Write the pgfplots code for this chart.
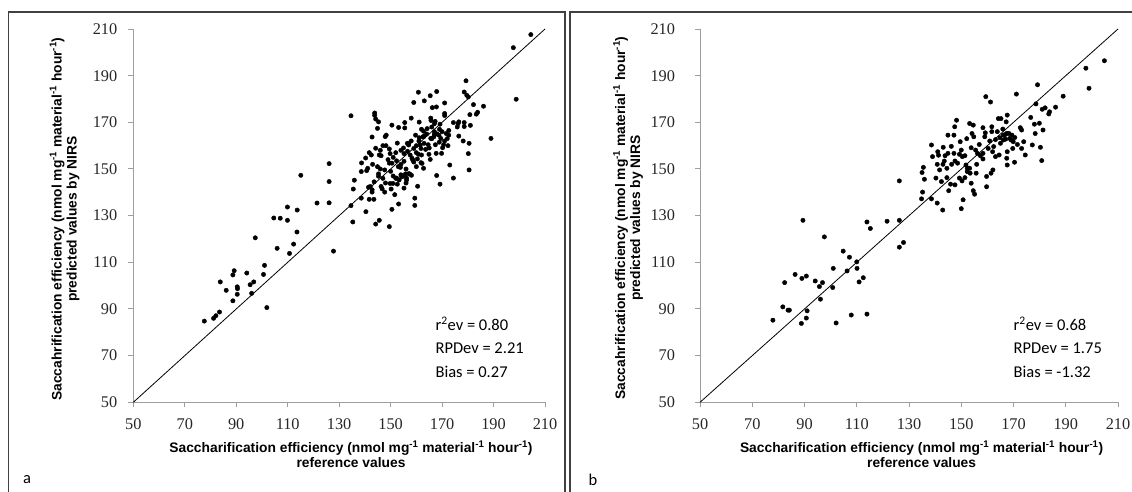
\documentclass[border=0pt]{standalone}
\usepackage{fontspec}
\setmainfont{Liberation Sans}
\newfontfamily\timesf{Liberation Serif}
\newfontfamily\calib{Carlito}
\usepackage{pgfplots}
\usepackage{pgfplotstable}
\pgfplotsset{compat=1.18}

\pgfplotstableread{
x y
77.6 84.8
81.2 86.0
82.1 87.1
83.5 88.7
83.8 101.6
86.1 98.0
88.7 93.5
88.7 104.6
89.2 106.4
90.4 99.5
90.5 98.7
90.4 96.3
94.1 105.4
95.4 100.4
96.0 96.7
96.8 101.6
97.4 120.5
100.6 104.8
101.0 108.7
101.9 90.6
104.6 129.0
107.1 128.9
105.9 116.0
109.9 133.7
109.9 128.0
110.7 113.8
112.3 117.8
113.7 132.4
113.6 123.0
115.1 147.3
121.4 135.4
126.1 152.3
126.1 144.6
126.1 135.5
127.8 114.8
134.6 172.8
134.6 134.3
135.3 127.3
135.5 141.4
135.9 145.2
143.8 174.0
143.8 173.0
144.2 171.4
145.3 170.2
144.9 167.4
142.8 163.7
147.9 163.9
148.3 164.5
150.5 168.8
153.1 167.8
155.5 167.6
155.5 169.9
158.0 171.8
159.0 178.5
160.8 182.9
161.1 170.1
163.1 179.2
165.4 181.4
166.2 176.3
167.8 176.6
167.9 183.2
171.0 178.3
171.0 173.8
171.0 172.9
165.6 171.8
165.7 170.8
167.0 169.4
167.3 170.4
169.2 169.2
172.6 166.5
174.4 169.9
176.2 169.4
176.5 170.2
178.6 169.9
178.6 168.2
175.9 168.0
176.5 164.1
178.2 162.0
178.6 183.0
179.3 187.8
179.6 181.6
180.2 180.9
180.8 173.3
181.0 168.7
182.2 177.6
183.3 173.5
183.8 174.3
186.1 176.9
180.5 161.0
180.2 156.6
180.5 149.6
189.0 163.1
197.7 202.0
198.8 179.9
204.5 207.6
138.7 152.6
138.6 148.9
140.3 154.7
141.1 150.3
140.7 149.3
141.7 157.0
142.5 156.0
142.1 142.5
141.4 142.2
142.8 141.1
142.8 140.1
141.7 137.0
143.5 137.0
138.6 137.5
140.4 131.7
143.6 144.5
144.2 158.9
145.6 156.0
146.3 155.7
144.9 151.0
145.3 147.9
145.3 146.9
146.3 142.5
146.7 141.5
147.7 140.1
144.2 126.4
145.6 128.0
147.0 160.0
148.2 160.0
147.7 149.6
149.5 158.6
149.8 156.6
149.5 152.5
150.5 152.5
149.8 143.8
150.9 143.8
150.2 141.4
149.5 125.3
150.5 132.7
151.6 139.0
152.3 153.5
152.6 161.1
153.3 145.3
152.3 146.1
152.6 143.5
154.0 147.5
153.8 150.7
154.3 146.6
153.1 135.0
155.2 156.6
155.2 153.3
155.8 147.9
156.2 146.1
156.2 145.3
155.2 141.8
156.5 161.0
157.0 160.3
157.4 147.9
158.1 147.3
156.6 157.6
157.6 156.0
158.3 154.6
158.6 153.9
159.0 158.8
159.7 164.5
159.4 137.5
159.4 134.4
160.5 142.6
160.8 156.3
160.4 154.3
161.1 163.4
161.5 160.3
161.8 158.8
161.8 152.7
162.2 152.4
162.5 163.8
162.8 166.2
162.8 150.3
163.6 158.4
164.2 167.3
164.6 160.4
164.9 156.3
165.4 154.1
165.6 163.1
166.8 163.8
167.0 164.8
167.4 160.4
167.7 156.7
167.9 147.2
168.8 164.5
168.9 161.5
169.2 143.5
169.5 163.1
169.8 156.7
170.2 159.1
170.6 160.4
171.6 165.2
172.3 160.0
173.0 151.7
174.4 146.1
172.6 164.5
149.0 154.0
151.0 155.0
152.0 157.0
154.0 158.0
155.0 159.0
157.0 161.0
158.0 162.0
160.0 160.0
161.0 162.0
163.0 164.0
164.0 165.0
166.0 163.0
167.0 166.0
168.0 165.0
169.0 167.0
170.0 166.0
171.0 162.0
172.0 163.0
160.0 157.0
162.0 156.0
163.0 161.0
165.0 159.0
153.0 151.0
154.0 152.0
156.0 150.0
157.0 148.0
152.0 146.0
151.0 147.0
148.0 144.0
147.0 146.0
146.0 150.0
150.0 149.0
155.0 147.0
156.0 144.0
143.0 152.0
146.0 158.0
160.0 151.0
159.0 153.0
166.0 168.0
162.0 167.0
}\dataa

\pgfplotstableread{
x y
77.9 85.2
81.7 90.9
82.4 101.3
83.7 89.5
84.2 89.5
86.4 104.8
88.8 83.8
89.0 103.1
89.4 128.0
90.7 104.1
90.7 86.1
91.0 89.2
94.1 102.0
95.7 99.6
96.1 94.2
96.9 101.3
97.6 120.9
100.8 99.2
101.0 107.4
102.1 84.0
104.8 114.8
106.3 106.3
107.2 112.2
107.9 87.4
110.0 110.2
110.1 107.4
110.9 101.6
112.5 103.4
113.9 127.3
113.9 87.8
115.2 124.5
121.6 127.6
126.3 144.9
126.3 128.0
126.3 116.5
127.9 118.5
134.8 137.2
135.2 140.1
135.0 148.5
135.5 150.7
135.9 145.6
159.4 181.0
161.2 178.7
171.1 182.1
179.2 186.1
178.6 177.9
186.1 176.5
189.0 181.2
197.7 193.2
198.9 184.6
204.8 196.4
183.5 173.6
183.8 174.5
181.0 175.6
182.1 176.2
181.3 166.7
180.8 153.6
180.3 159.3
179.9 169.6
178.0 169.2
178.3 165.2
177.2 160.3
176.6 172.1
174.5 156.0
173.9 161.7
173.1 158.8
172.6 167.7
173.1 166.7
170.4 152.9
169.7 158.8
169.9 161.7
169.4 164.5
168.3 165.2
167.6 173.1
167.2 170.2
167.6 151.7
167.4 154.6
167.6 157.4
167.0 162.8
166.1 164.5
165.9 167.1
165.2 171.6
164.2 171.6
163.8 166.0
164.8 163.4
164.5 156.0
163.1 155.3
163.1 162.6
162.4 159.6
161.7 168.1
161.7 166.0
162.0 157.4
162.1 149.6
161.4 148.2
160.9 162.0
160.3 158.8
159.7 146.8
159.7 142.4
159.2 165.5
159.0 163.8
158.3 167.7
158.3 156.7
158.3 154.3
157.3 155.7
156.9 160.5
156.2 156.7
155.9 152.0
155.7 148.2
155.5 158.1
154.8 163.8
154.6 168.8
153.8 159.1
153.2 169.5
154.1 165.2
153.2 150.3
153.4 148.2
153.8 143.9
154.6 140.7
155.1 139.2
152.1 163.0
151.4 155.7
151.8 151.7
152.3 150.3
152.3 148.9
151.4 146.3
150.7 136.8
150.0 133.0
150.3 144.9
149.6 161.7
150.0 158.1
149.3 156.3
150.4 155.3
148.6 152.5
149.3 146.1
148.2 170.9
147.5 168.1
147.2 164.5
147.2 156.7
147.6 153.4
147.6 143.2
146.2 159.7
146.3 152.0
145.9 143.5
145.2 140.7
144.9 164.5
144.9 156.7
144.5 150.3
144.5 146.3
143.8 155.7
143.5 153.4
143.1 159.3
143.0 152.0
142.9 132.4
142.4 144.6
141.7 149.6
141.0 157.4
141.3 155.9
140.8 152.0
140.8 135.4
140.3 146.1
139.0 155.3
138.6 160.3
138.6 137.2
166.9 164.8
168.6 163.1
169.1 162.4
167.5 165.3
166.1 162.4
165.0 161.0
170.5 163.5
171.5 160.5
}\datab

\pgfplotsset{
  scatstyle/.style={
    scale only axis, anchor=south west,
    height=373.3pt,
    xmin=50, xmax=210, ymin=50, ymax=210,
    xtick={50,70,...,210}, ytick={50,70,...,210},
    axis lines=left,
    axis line style={-, draw=black!38, line width=1pt},
    tick style={draw=black!38, line width=1pt},
    tick align=outside, major tick length=5pt,
    ticklabel style={font=\timesf\fontsize{16.3}{16.3}\selectfont, text=black!85},
    /pgf/number format/assume math mode=true,
    xticklabel style={yshift=-8pt},
    yticklabel style={xshift=-7.5pt},
    clip=false,
  }
}

\begin{document}
\begin{tikzpicture}[x=1pt,y=1pt]
\useasboundingbox (0,0) rectangle (1132,491);
\draw[line width=1.2pt, black!75] (8.5,-10) -- (8.5,479) -- (565,479) -- (565,-10);
\draw[line width=1.2pt, black!75] (570,-10) -- (570,479) -- (1140,479);

\begin{axis}[scatstyle, at={(133.3pt,88.7pt)}, width=411.7pt]
\addplot[black, line width=0.8pt, no marks] coordinates {(50,50) (210,210)};
\addplot[only marks, mark=*, mark size=2.2pt, black] table {\dataa};
\node[anchor=west, font=\calib\fontsize{16.5}{18}\selectfont, inner sep=0pt] at (axis cs:167.4,83.5) {r\textsuperscript{2}ev = 0.80};
\node[anchor=west, font=\calib\fontsize{16.5}{18}\selectfont, inner sep=0pt] at (axis cs:167.4,73.2) {RPDev = 2.21};
\node[anchor=west, font=\calib\fontsize{16.5}{18}\selectfont, inner sep=0pt] at (axis cs:167.4,63.2) {Bias = 0.27};
\end{axis}

\begin{axis}[scatstyle, at={(700pt,88.7pt)}, width=418pt, yticklabel style={xshift=-9pt}]
\addplot[black, line width=0.8pt, no marks] coordinates {(50,50) (210,210)};
\addplot[only marks, mark=*, mark size=2.2pt, black] table {\datab};
\node[anchor=west, font=\calib\fontsize{16.5}{18}\selectfont, inner sep=0pt] at (axis cs:170,83.5) {r\textsuperscript{2}ev = 0.68};
\node[anchor=west, font=\calib\fontsize{16.5}{18}\selectfont, inner sep=0pt] at (axis cs:170,73.2) {RPDev = 1.75};
\node[anchor=west, font=\calib\fontsize{16.5}{18}\selectfont, inner sep=0pt] at (axis cs:170,63.2) {Bias = -1.32};
\end{axis}

\tikzset{lab/.style={align=center, font=\bfseries\fontsize{13.8}{15}\selectfont, inner sep=0pt}}
\node[lab] at (351,36.8) {Saccharification efficiency (nmol mg\textsuperscript{-1} material\textsuperscript{-1} hour\textsuperscript{-1})\\reference values};
\node[lab, rotate=90] at (64.5,272) {Saccahrification efficiency (nmol mg\textsuperscript{-1} material\textsuperscript{-1} hour\textsuperscript{-1})\\predicted values by NIRS};
\node[lab] at (921.6,36.8) {Saccharification efficiency (nmol mg\textsuperscript{-1} material\textsuperscript{-1} hour\textsuperscript{-1})\\reference values};
\node[lab, rotate=90] at (628,273) {Saccahrification efficiency (nmol mg\textsuperscript{-1} material\textsuperscript{-1} hour\textsuperscript{-1})\\predicted values by NIRS};
\node[font=\calib\fontsize{16.5}{18}\selectfont, inner sep=0pt] at (27,11) {a};
\node[font=\calib\fontsize{16.5}{18}\selectfont, inner sep=0pt] at (593,11) {b};
\end{tikzpicture}
\end{document}
